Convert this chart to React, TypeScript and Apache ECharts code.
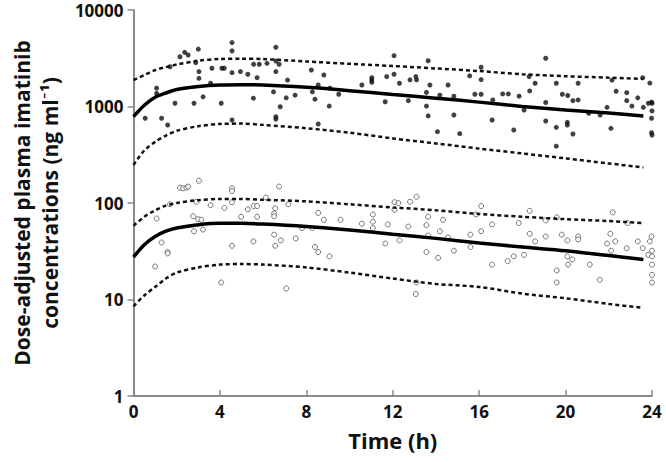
import React, { useEffect, useRef } from "react";
import * as echarts from "echarts";

// Time grid of the model curves (h)
const curveTimes = [0, 0.5, 1, 1.5, 2, 3, 4, 5, 6, 8, 10, 12, 14, 16, 18, 20, 22, 23.6];

// Upper group (filled symbols): median and 90% prediction interval
const topMedian = [784, 1030, 1250, 1380, 1500, 1610, 1670, 1680, 1670, 1580, 1460, 1330, 1220, 1110, 1000, 920, 855, 795];
const topUpper = [1880, 2120, 2380, 2560, 2720, 2980, 3110, 3130, 3100, 2930, 2770, 2630, 2480, 2330, 2160, 2060, 1990, 1930];
const topLower = [248, 350, 430, 500, 560, 625, 660, 665, 645, 595, 535, 467, 414, 366, 326, 290, 257, 234];

// Lower group (open symbols): median and 90% prediction interval
const botMedian = [27.5, 37, 45, 51, 55, 59.5, 61.5, 61.5, 60.5, 57, 52.5, 47.5, 43, 38.5, 35, 32, 28.5, 26];
const botUpper = [58, 72, 84, 94, 100, 107, 110, 110, 108, 104, 97, 90, 84, 77, 72, 68, 65, 62];
const botLower = [8.5, 11, 13.5, 16.5, 19, 21.5, 23, 23.3, 23, 21.5, 19, 16.5, 14.5, 13.5, 11.5, 10.3, 9, 8.2];

// Observations [time (h), concentration (ng/ml)]
const topObs = [
  [0.54, 755], [1.07, 1550], [1.07, 1370], [1.3, 755], [1.58, 643], [1.69, 2580], [1.92, 1080], [2.15, 3280],
  [2.37, 3640], [2.53, 3420], [2.8, 1080], [2.88, 2850], [3.0, 3930], [3.03, 2300], [3.03, 1960], [3.22, 1260],
  [3.57, 1740], [3.63, 2490], [4.06, 1080], [4.09, 2490], [4.2, 2490], [4.56, 4600], [4.56, 3770], [4.56, 2240],
  [4.56, 725], [4.95, 2300], [5.29, 2160], [5.55, 1220], [5.56, 2740], [5.72, 1990], [5.82, 2740], [6.18, 2800],
  [6.48, 1420], [6.59, 4110], [6.59, 2960], [6.59, 2300], [6.59, 784], [6.59, 740], [6.74, 2740], [6.79, 995],
  [7.07, 1230], [7.13, 1880], [7.48, 1310], [8.23, 2390], [8.28, 1420], [8.4, 1190], [8.55, 1670], [8.55, 659],
  [8.81, 2120], [9.06, 1010], [9.09, 1550], [9.5, 1340], [10.57, 1670], [11.03, 1990], [11.03, 1880], [11.03, 1780],
  [11.65, 1120], [11.72, 2040], [12.06, 3360], [12.06, 2160], [12.31, 1740], [12.72, 1150], [12.8, 1890], [13.07, 2040],
  [13.1, 1890], [13.56, 1400], [13.56, 1010], [13.64, 2980], [13.64, 800], [13.72, 1670], [14.07, 548], [14.18, 1310],
  [14.56, 1670], [14.83, 1280], [14.83, 817], [15.1, 523], [15.56, 2080], [15.8, 1340], [16.09, 2550], [16.09, 1900],
  [16.09, 1340], [16.6, 725], [16.63, 1170], [17.09, 1350], [17.35, 1350], [17.6, 571], [17.85, 1280], [18.08, 920],
  [18.31, 2040], [18.34, 1450], [18.59, 1740], [19.08, 3160], [19.08, 1100], [19.08, 708], [19.57, 1740], [19.57, 608],
  [19.57, 388], [19.85, 1340], [20.08, 685], [20.08, 643], [20.1, 1300], [20.34, 1150], [20.34, 519], [20.58, 1740],
  [20.58, 1170], [21.07, 850], [21.6, 817], [21.92, 980], [22.1, 594], [22.15, 1880], [22.34, 1440], [22.83, 1390],
  [22.83, 1150], [23.07, 1010], [23.34, 1230], [23.57, 1990], [23.6, 980], [23.83, 1080], [23.9, 1750], [23.98, 755],
  [23.98, 535], [23.98, 1110], [24.0, 1080], [24.0, 900], [24.0, 507],
];

const botObs = [
  [1.0, 22], [1.07, 69], [1.3, 39], [1.58, 31], [1.58, 30], [1.69, 97], [2.15, 144], [2.3, 142], [2.45, 144],
  [2.53, 148], [2.76, 73], [2.8, 51], [2.91, 103], [2.99, 68], [3.03, 170], [3.14, 67], [3.22, 53], [3.57, 95],
  [4.06, 15], [4.21, 89], [4.56, 142], [4.56, 133], [4.56, 102], [4.56, 36], [4.98, 72], [5.29, 86], [5.55, 40],
  [5.56, 93], [5.72, 93], [5.72, 72], [6.13, 114], [6.51, 78], [6.51, 73], [6.51, 47], [6.56, 88], [6.56, 36],
  [6.74, 148], [6.82, 41], [7.07, 13], [7.17, 97], [7.51, 43], [7.8, 55], [8.28, 55], [8.4, 35], [8.55, 79],
  [8.55, 31], [8.81, 67], [9.07, 28], [9.58, 67], [10.57, 61], [11.08, 76], [11.08, 64], [11.08, 55], [11.65, 38],
  [11.77, 60], [12.08, 102], [12.08, 85], [12.26, 100], [12.31, 41], [12.72, 57], [12.8, 103], [13.07, 11.4],
  [13.1, 116], [13.1, 15], [13.56, 59], [13.56, 31], [13.64, 72], [13.64, 46], [14.1, 27], [14.18, 51], [14.33, 67],
  [14.56, 44], [14.83, 32], [15.59, 47], [15.6, 35], [15.86, 76], [16.09, 93], [16.09, 51], [16.6, 60], [16.6, 23],
  [17.32, 25], [17.6, 28], [17.83, 62], [18.08, 29], [18.34, 83], [18.34, 48], [18.59, 40], [19.08, 66], [19.08, 45],
  [19.59, 71], [19.59, 20], [19.59, 15], [19.82, 47], [20.08, 41], [20.08, 28], [20.12, 23], [20.31, 26], [20.58, 45],
  [20.58, 42], [21.12, 23], [21.58, 16], [21.92, 38], [22.07, 48], [22.11, 32], [22.18, 80], [22.3, 40], [22.83, 34],
  [22.86, 62], [23.34, 40], [23.57, 34], [23.83, 29], [23.9, 40], [23.98, 45], [24.0, 32], [24.0, 28], [24.0, 23],
  [24.0, 18], [24.0, 15],
];

const xTicks = [0, 4, 8, 12, 16, 20, 24];
const yTicks = [1, 10, 100, 1000, 10000];

const FONT = "'Open Sans', Lato, sans-serif";

function pair(vals: number[]) {
  return curveTimes.map((t, i) => [t, vals[i]]);
}

export default function App() {
  const ref = useRef<HTMLDivElement>(null);
  useEffect(() => {
    if (!ref.current) return;
    const chart = echarts.init(ref.current, undefined, { renderer: "svg" });
    const solid = (name: string, vals: number[]) => ({
      name,
      type: "line",
      data: pair(vals),
      smooth: 0.3,
      symbol: "none",
      lineStyle: { color: "#000", width: 3.5 },
      z: 3,
    });
    const dashed = (name: string, vals: number[]) => ({
      name,
      type: "line",
      data: pair(vals),
      smooth: 0.3,
      symbol: "none",
      lineStyle: { color: "#111", width: 2.5, type: [4, 3] },
      z: 3,
    });
    chart.setOption({
      animation: false,
      backgroundColor: "#fff",
      grid: { left: 130, right: 14, top: 10, bottom: 66 },
      xAxis: {
        type: "value",
        min: 0,
        max: 24,
        interval: 4,
        name: "Time (h)",
        nameLocation: "middle",
        nameGap: 33,
        nameTextStyle: { fontFamily: FONT, fontWeight: "bold", fontSize: 22, color: "#111" },
        axisLine: { lineStyle: { color: "#8a8a8a", width: 2 } },
        axisTick: { inside: true, length: 6, lineStyle: { color: "#8a8a8a", width: 1.5 } },
        axisLabel: {
          margin: 7,
          fontFamily: FONT,
          fontWeight: "bold",
          fontSize: 17,
          color: "#111",
          formatter: (v: number) => (xTicks.includes(v) ? String(v) : ""),
        },
        splitLine: { show: false },
      },
      yAxis: {
        type: "log",
        logBase: 10,
        min: yTicks[0],
        max: yTicks[yTicks.length - 1],
        name: "Dose-adjusted plasma imatinib\nconcentrations (ng ml\u207B\u00B9)",
        nameLocation: "middle",
        nameRotate: 90,
        nameGap: 66,
        nameTextStyle: { fontFamily: FONT, fontWeight: "bold", fontSize: 21, color: "#111", lineHeight: 28 },
        axisLine: { lineStyle: { color: "#8a8a8a", width: 2 } },
        axisTick: { inside: false, length: 6, lineStyle: { color: "#8a8a8a", width: 1.5 } },
        axisLabel: {
          margin: 10,
          fontFamily: FONT,
          fontWeight: "bold",
          fontSize: 17,
          color: "#111",
          formatter: (v: number) => String(v),
        },
        splitLine: { show: false },
        minorTick: { show: false },
      },
      series: [
        {
          name: "obs-high",
          type: "scatter",
          data: topObs,
          symbol: "circle",
          symbolSize: 5,
          itemStyle: { color: "#111" },
          clip: false,
          z: 2,
        },
        {
          name: "obs-low",
          type: "scatter",
          data: botObs,
          symbol: "circle",
          symbolSize: 5,
          itemStyle: { color: "#fff", borderColor: "#555", borderWidth: 1 },
          clip: false,
          z: 2,
        },
        solid("median-high", topMedian),
        dashed("upper-high", topUpper),
        dashed("lower-high", topLower),
        solid("median-low", botMedian),
        dashed("upper-low", botUpper),
        dashed("lower-low", botLower),
      ],
    });
    return () => chart.dispose();
  }, []);
  return (
    <div
      ref={ref}
      style={{ position: "fixed", left: 0, top: 0, width: 666, height: 462, background: "#fff" }}
    />
  );
}
